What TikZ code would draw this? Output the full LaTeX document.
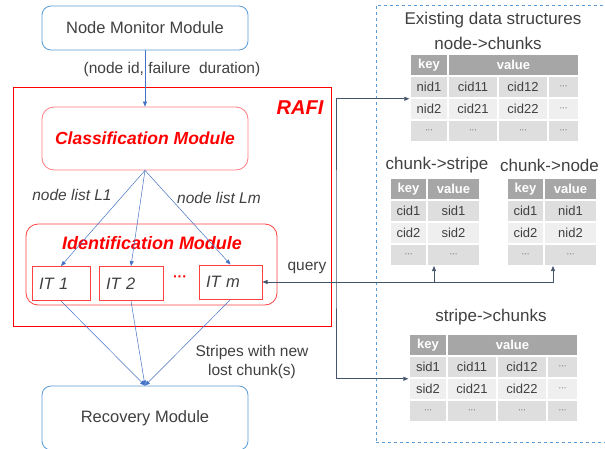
\documentclass[tikz,border=0pt]{standalone}
\usepackage{fontspec}
\setmainfont{Liberation Sans}
\usetikzlibrary{arrows.meta}

\definecolor{modblue}{RGB}{91,155,213}
\definecolor{arrblue}{RGB}{68,114,196}
\definecolor{linkgray}{RGB}{68,84,106}
\definecolor{txtgray}{RGB}{64,64,64}
\definecolor{hdrgray}{RGB}{166,166,166}
\definecolor{rowdark}{RGB}{222,222,222}
\definecolor{rowlight}{RGB}{239,239,239}
\definecolor{softred}{RGB}{255,124,128}
\definecolor{itred}{RGB}{255,64,64}

\newcommand{\celldots}{{\fontsize{8}{8}\selectfont ···}}

\begin{document}
\begin{tikzpicture}[x=1pt, y=-1pt,
    % Define styles - boxes, table cells and connectors
    >={Triangle[length=5pt, width=4pt]},
    module/.style={rectangle, rounded corners=9pt, draw=modblue, line width=0.8pt, minimum width=206pt, text=txtgray, font=\fontsize{16.5}{19}\selectfont},
    redmodule/.style={rectangle, rounded corners=12pt, draw=softred, line width=0.8pt, text=red, font=\fontsize{17.5}{20}\selectfont\bfseries\itshape},
    itbox/.style={rectangle, draw=itred, line width=1pt, minimum height=34pt, inner sep=7pt, align=left, text=txtgray, font=\fontsize{16.5}{19}\selectfont\itshape},
    note/.style={text=txtgray, font=\fontsize{15.5}{19}\selectfont},
    dstitle/.style={text=txtgray, font=\fontsize{17}{20}\selectfont},
    cell/.style={rectangle, draw=white, line width=1.5pt, inner sep=0pt, minimum height=22pt, text=txtgray, font=\fontsize{13}{15}\selectfont},
    hdr/.style={cell, fill=hdrgray, text=white, font=\fontsize{13}{15}\selectfont\bfseries},
    rowa/.style={cell, fill=rowdark},
    rowb/.style={cell, fill=rowlight},
    kcol/.style={minimum width=38pt},
    vcol/.style={minimum width=50pt},
    ecol/.style={minimum width=31pt},
    vhdr/.style={minimum width=131pt},
    skcol/.style={minimum width=37pt},
    svcol/.style={minimum width=53pt},
    flow/.style={->, draw=arrblue, line width=0.5pt},
    link/.style={draw=linkgray, line width=0.7pt}
]
\useasboundingbox (0,0) rectangle (605,448);

% Existing data structures frame
\node[rectangle, draw=modblue, dashed, line width=0.8pt, minimum width=234pt, minimum height=437pt] (dsframe) at (493,223.5) {};
\node[dstitle] (dstitle) at (493,20) {Existing data structures};

% Table node->chunks
\node[dstitle] (nctitle) at (488,43) {node->chunks};
\node[hdr, kcol] (nc-kh) at (429,65) {key};
\node[hdr, vhdr] (nc-vh) at (513.5,65) {value};
\node[rowa, kcol] (nc-k1) at (429,87) {nid1};
\node[rowa, vcol] (nc-a1) at (473,87) {cid11};
\node[rowa, vcol] (nc-b1) at (523,87) {cid12};
\node[rowa, ecol] (nc-c1) at (563.5,87) {\celldots};
\node[rowb, kcol] (nc-k2) at (429,109) {nid2};
\node[rowb, vcol] (nc-a2) at (473,109) {cid21};
\node[rowb, vcol] (nc-b2) at (523,109) {cid22};
\node[rowb, ecol] (nc-c2) at (563.5,109) {\celldots};
\node[rowa, kcol] (nc-k3) at (429,131) {\celldots};
\node[rowa, vcol] (nc-a3) at (473,131) {\celldots};
\node[rowa, vcol] (nc-b3) at (523,131) {\celldots};
\node[rowa, ecol] (nc-c3) at (563.5,131) {\celldots};

% Table chunk->stripe
\node[dstitle] (cstitle) at (437,165) {chunk->stripe};
\node[hdr, skcol] (cs-kh) at (408.5,189) {key};
\node[hdr, svcol] (cs-vh) at (453.5,189) {value};
\node[rowa, skcol] (cs-k1) at (408.5,211) {cid1};
\node[rowa, svcol] (cs-v1) at (453.5,211) {sid1};
\node[rowb, skcol] (cs-k2) at (408.5,233) {cid2};
\node[rowb, svcol] (cs-v2) at (453.5,233) {sid2};
\node[rowa, skcol] (cs-k3) at (408.5,255) {\celldots};
\node[rowa, svcol] (cs-v3) at (453.5,255) {\celldots};

% Table chunk->node
\node[dstitle] (cntitle) at (549.5,165) {chunk->node};
\node[hdr, skcol] (cn-kh) at (525.5,189) {key};
\node[hdr, svcol] (cn-vh) at (570.5,189) {value};
\node[rowa, skcol] (cn-k1) at (525.5,211) {cid1};
\node[rowa, svcol] (cn-v1) at (570.5,211) {nid1};
\node[rowb, skcol] (cn-k2) at (525.5,233) {cid2};
\node[rowb, svcol] (cn-v2) at (570.5,233) {nid2};
\node[rowa, skcol] (cn-k3) at (525.5,255) {\celldots};
\node[rowa, svcol] (cn-v3) at (570.5,255) {\celldots};

% Table stripe->chunks
\node[dstitle] (sctitle) at (491,317) {stripe->chunks};
\node[hdr, kcol] (sc-kh) at (428,345) {key};
\node[hdr, vhdr] (sc-vh) at (512.5,345) {value};
\node[rowa, kcol] (sc-k1) at (428,367) {sid1};
\node[rowa, vcol] (sc-a1) at (472,367) {cid11};
\node[rowa, vcol] (sc-b1) at (522,367) {cid12};
\node[rowa, ecol] (sc-c1) at (562.5,367) {\celldots};
\node[rowb, kcol] (sc-k2) at (428,389) {sid2};
\node[rowb, vcol] (sc-a2) at (472,389) {cid21};
\node[rowb, vcol] (sc-b2) at (522,389) {cid22};
\node[rowb, ecol] (sc-c2) at (562.5,389) {\celldots};
\node[rowa, kcol] (sc-k3) at (428,411) {\celldots};
\node[rowa, vcol] (sc-a3) at (472,411) {\celldots};
\node[rowa, vcol] (sc-b3) at (522,411) {\celldots};
\node[rowa, ecol] (sc-c3) at (562.5,411) {\celldots};

% Modules
\node[module, minimum height=44pt] (monitor) at (145,28) {Node Monitor Module};
\node[rectangle, draw=red, line width=0.8pt, minimum width=318pt, minimum height=239pt] (rafi) at (172,206.5) {};
\node[text=red, font=\fontsize{20}{24}\selectfont\bfseries\itshape] (rafilab) at (300,108) {RAFI};
\node[redmodule, minimum width=206pt, minimum height=63pt] (classif) at (145,138.5) {Classification Module};
\node[redmodule, draw=itred, minimum width=251pt, minimum height=81pt] (ident) at (151.5,264.5) {};
\node[text=red, font=\fontsize{18}{21}\selectfont\bfseries\itshape] (identlab) at (152,243) {Identification Module};
\node[itbox, text width=44pt] (IT1) at (61,283.5) {IT 1};
\node[itbox, text width=50pt] (IT2) at (131,283.5) {IT 2};
\node[text=red, font=\fontsize{14}{16}\selectfont\bfseries] (itdots) at (180,279) {···};
\node[itbox, text width=49pt] (ITm) at (230.5,282) {IT m};
\node[module, minimum height=64pt] (recovery) at (145,418) {Recovery Module};

% Labels
\node[note] (ndinfo) at (172,69) {(node id, failure\ \ duration)};
\node[note, font=\fontsize{15.5}{19}\selectfont\itshape] (l1lab) at (72,195) {node list L1};
\node[note, font=\fontsize{15.5}{19}\selectfont\itshape] (lmlab) at (219,198) {node list Lm};
\node[note] (qlab) at (307,268) {query};
\node[note, align=center] (slab) at (252,362) {Stripes with new\\lost chunk(s)};

% Flow connections
\draw[flow] (monitor.south) -- (classif.north);
\draw[flow] (classif.south) -- (IT1.north);
\draw[flow] (classif.south) -- (IT2.north);
\draw[flow] (classif.south) -- (ITm.north);
\draw[flow] (IT1.south) -- (recovery.north);
\draw[flow] (IT2.south) -- (recovery.north);
\draw[flow] (ITm.south) -- (recovery.north);

% Links to data structures
\coordinate (bus) at (336,240);
\draw[link, <->] (nc-k1.south west) -| (bus) |- (sc-k1.south west);
\coordinate (qs) at (434,266);
\coordinate (qn) at (553,266);
\draw[link, <->] (ITm.east) -| (qn);
\draw[link, ->] (ITm.east -| qs) -- (qs);

\end{tikzpicture}
\end{document}
